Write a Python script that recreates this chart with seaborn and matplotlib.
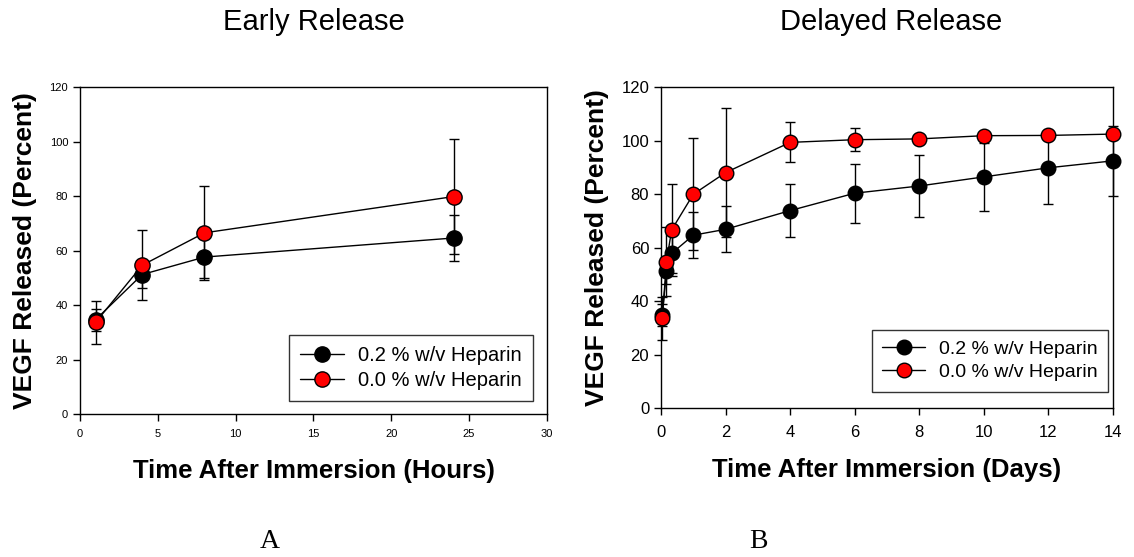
import pandas as pd
import seaborn as sns
import matplotlib.pyplot as plt

## Data
hours = [1, 4, 8, 24]
early_hep = [34.6, 51.2, 57.6, 64.6]
early_hep_err = [4.0, 5.0, 7.5, 8.6]
early_none = [33.6, 54.6, 66.5, 79.8]
early_none_err = [8.0, 12.8, 17.2, 21.0]

days = [0.04, 0.17, 0.33, 1, 2, 4, 6, 8, 10, 12, 14]
late_hep = [34.7, 51.3, 57.8, 64.6, 66.8, 73.8, 80.3, 83.0, 86.4, 89.8, 92.4]
late_hep_err = [4.0, 5.0, 7.5, 8.6, 8.6, 10.0, 11.0, 11.5, 12.7, 13.5, 13.0]
late_none = [33.6, 54.7, 66.6, 79.9, 88.0, 99.3, 100.3, 100.6, 101.8, 101.9, 102.4]
late_none_err = [8.0, 12.8, 17.2, 21.0, 24.0, 7.5, 4.2, 1.0, 1.5, 1.0, 1.0]

labels = ['0.2 % w/v Heparin', '0.0 % w/v Heparin']
face_colors = ['black', 'red']

## Style
sns.set_style('ticks')
plt.rcParams['font.family'] = ['Liberation Sans', 'DejaVu Sans']
plt.rcParams.update({'text.color': 'black', 'axes.labelcolor': 'black',
                     'xtick.color': 'black', 'ytick.color': 'black'})

fig = plt.figure(figsize=(11.34, 5.57), dpi=100)
ax1 = fig.add_axes([0.0705, 0.2567, 0.4118, 0.587])
ax2 = fig.add_axes([0.5829, 0.2675, 0.3986, 0.5763])


def draw_panel(ax, x, series, errs, ms, legend_anchor, tick_size, legend_size):
    # error bars go under the lines and markers
    for y, e in zip(series, errs):
        eb = ax.errorbar(x, y, yerr=e, fmt='none', ecolor='black', elinewidth=1,
                         capsize=3.5, capthick=1, zorder=1)
        for art in eb.lines[1] + eb.lines[2]:
            art.set_clip_on(False)
    for y, lab, fc in zip(series, labels, face_colors):
        df = pd.DataFrame({'x': x, 'y': y})
        sns.lineplot(data=df, x='x', y='y', ax=ax, color='black', lw=1,
                     marker='o', markersize=ms, markerfacecolor=fc,
                     markeredgecolor='black', markeredgewidth=1, label=lab,
                     zorder=3, clip_on=False)
    leg = ax.legend(loc='lower right', bbox_to_anchor=legend_anchor,
                    fontsize=legend_size, frameon=True, fancybox=False,
                    edgecolor='black', handlelength=2.2, borderpad=0.55,
                    labelspacing=0.3, handletextpad=0.7, borderaxespad=0)
    leg.get_frame().set_linewidth(1)
    ax.set_ylim(0, 120)
    ax.set_yticks(range(0, 121, 20))
    ax.tick_params(direction='out', length=5, width=1, labelsize=tick_size)
    for sp in ax.spines.values():
        sp.set_visible(True)
        sp.set_linewidth(1)
        sp.set_color('black')
    ax.set_ylabel('VEGF Released (Percent)', fontsize=19, fontweight='bold')


draw_panel(ax1, hours, [early_hep, early_none], [early_hep_err, early_none_err],
           11, (0.97, 0.04), 8, 14.5)
ax1.set_xlim(0, 30)
ax1.set_xticks(range(0, 31, 5))
ax1.tick_params(axis='x', pad=6)
ax1.set_xlabel('Time After Immersion (Hours)', fontsize=18.5, fontweight='bold',
               labelpad=14)
ax1.yaxis.labelpad = 9

draw_panel(ax2, days, [late_hep, late_none], [late_hep_err, late_none_err],
           10.5, (0.989, 0.05), 12, 14)
ax2.set_xlim(0, 14)
ax2.set_xticks(range(0, 15, 2))
ax2.tick_params(axis='x', pad=7)
ax2.set_xlabel('Time After Immersion (Days)', fontsize=18.5, fontweight='bold',
               labelpad=13)
ax2.yaxis.labelpad = 9

## Panel titles and letters
fig.text(314 / 1134, 1 - 22 / 557, 'Early Release', fontsize=21,
         ha='center', va='center')
fig.text(891 / 1134, 1 - 22 / 557, 'Delayed Release', fontsize=21,
         ha='center', va='center')
fig.text(270 / 1134, 1 - 541 / 557, 'A', fontsize=20, ha='center',
         va='center', family='Liberation Serif')
fig.text(758 / 1134, 1 - 541 / 557, 'B', fontsize=20, ha='center',
         va='center', family='Liberation Serif')

fig.savefig('out.png', dpi=100, facecolor='white')
